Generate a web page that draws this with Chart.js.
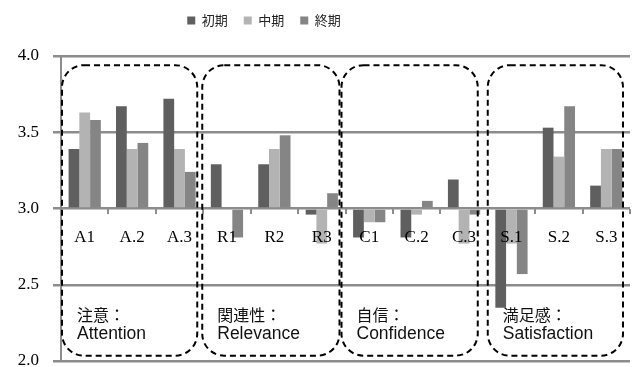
<!DOCTYPE html>
<html>
<head>
<meta charset="utf-8">
<script src="https://cdn.jsdelivr.net/npm/chart.js@4/dist/chart.umd.min.js"></script>
<style>
  html, body { margin: 0; padding: 0; background: #fff; }
  #wrap { width: 632px; height: 367px; }
</style>
</head>
<body>
<div id="wrap"><canvas id="c" width="632" height="367"></canvas></div>
<script>
// Item labels along the x axis
const categories = ['A1', 'A.2', 'A.3', 'R1', 'R2', 'R3', 'C1', 'C.2', 'C.3', 'S.1', 'S.2', 'S.3'];

// Mean scores per phase (bars rise or fall from 3.0)
const earlyScores  = [3.39, 3.67, 3.72, 3.29, 3.29, 2.96, 2.81, 2.81, 3.19, 2.35, 3.53, 3.15];
const middleScores = [3.63, 3.39, 3.39, 3.00, 3.39, 2.77, 2.91, 2.96, 2.77, 2.77, 3.34, 3.39];
const lateScores   = [3.58, 3.43, 3.24, 2.81, 3.48, 3.10, 2.91, 3.05, 2.96, 2.57, 3.67, 3.39];

const seriesNames = ['初期', '中期', '終期'];

// Y axis tick values
const yTicks = [2.0, 2.5, 3.0, 3.5, 4.0];

// ARCS groups: first/last category index and their captions
const groupRanges = [[0, 2], [3, 5], [6, 8], [9, 11]];
const groupTitlesJa = ['注意：', '関連性：', '自信：', '満足感：'];
const groupTitlesEn = ['Attention', 'Relevance', 'Confidence', 'Satisfaction'];

const baseline = 3.0;

// Dashed rounded frames with captions around each group
const groupFrames = {
  id: 'groupFrames',
  afterDatasetsDraw(chart) {
    const { ctx, scales: { x, y } } = chart;
    const half = (x.getPixelForValue(1) - x.getPixelForValue(0)) / 2;
    const insets = [[1, 6], [-1, 6], [-4, 10], [0, 7]];
    const top = y.getPixelForValue(3.94);
    const bottom = y.getPixelForValue(2.035);
    ctx.save();
    groupRanges.forEach((r, i) => {
      const left = x.getPixelForValue(r[0]) - half + insets[i][0];
      const right = x.getPixelForValue(r[1]) + half - insets[i][1];
      ctx.beginPath();
      ctx.setLineDash([6, 4]);
      ctx.lineWidth = 2;
      ctx.strokeStyle = '#000';
      ctx.roundRect(left, top, right - left, bottom - top, 22);
      ctx.stroke();
      ctx.setLineDash([]);
      ctx.fillStyle = '#111';
      ctx.textAlign = 'left';
      ctx.textBaseline = 'middle';
      ctx.font = '16px "Noto Sans CJK JP", sans-serif';
      ctx.fillText(groupTitlesJa[i], left + 15, y.getPixelForValue(2.3));
      ctx.font = '17.5px "Liberation Sans", Arial, sans-serif';
      ctx.fillText(groupTitlesEn[i], left + 15, y.getPixelForValue(2.175));
    });
    ctx.restore();
  }
};

// Place the legend block near the top edge, left of the canvas centre
const legendShift = {
  id: 'legendShift',
  afterLayout(chart) {
    const l = chart.legend;
    if (l) {
      l.left -= 51; l.right -= 51;
      l.top -= 19; l.bottom -= 19;
    }
  }
};

const ds = (label, data, color) => ({
  label, data, base: baseline,
  backgroundColor: color, borderWidth: 0,
  categoryPercentage: 0.68, barPercentage: 1.0
});

new Chart(document.getElementById('c'), {
  type: 'bar',
  data: {
    labels: categories,
    datasets: [
      ds(seriesNames[0], earlyScores, '#5f5f5f'),
      ds(seriesNames[1], middleScores, '#b3b3b3'),
      ds(seriesNames[2], lateScores, '#858585')
    ]
  },
  options: {
    responsive: false,
    animation: false,
    layout: { padding: { left: 0, right: 2, top: 17, bottom: 6 } },
    plugins: {
      legend: {
        position: 'top',
        labels: {
          boxWidth: 8, boxHeight: 8, padding: 16,
          color: '#222',
          font: { family: '"Noto Sans CJK JP", sans-serif', size: 13 }
        }
      },
      tooltip: { enabled: false }
    },
    scales: {
      x: {
        position: { y: baseline },
        afterFit(scale) { scale.height = 0; scale.paddingTop = 0; scale.paddingBottom = 0; },
        grid: {
          offset: true, drawOnChartArea: false, drawTicks: true,
          tickLength: 5, color: '#8c8c8c', lineWidth: 2
        },
        border: { display: false },
        ticks: {
          z: 1,
          color: '#000', padding: 14,
          font: { family: '"Liberation Serif", "Times New Roman", serif', size: 17 }
        }
      },
      y: {
        min: 2, max: 4,
        afterBuildTicks(scale) { scale.ticks = yTicks.map(v => ({ value: v })); },
        afterFit(scale) { scale.width = 61; scale.paddingTop = 0; scale.paddingBottom = 0; },
        grid: { color: '#8c8c8c', lineWidth: 2.5, tickLength: 8 },
        border: { display: true, color: '#8c8c8c', width: 2 },
        ticks: {
          color: '#000', padding: 14,
          callback: v => Number(v).toFixed(1),
          font: { family: '"Liberation Serif", "Times New Roman", serif', size: 17 }
        }
      }
    }
  },
  plugins: [groupFrames, legendShift]
});
</script>
</body>
</html>
